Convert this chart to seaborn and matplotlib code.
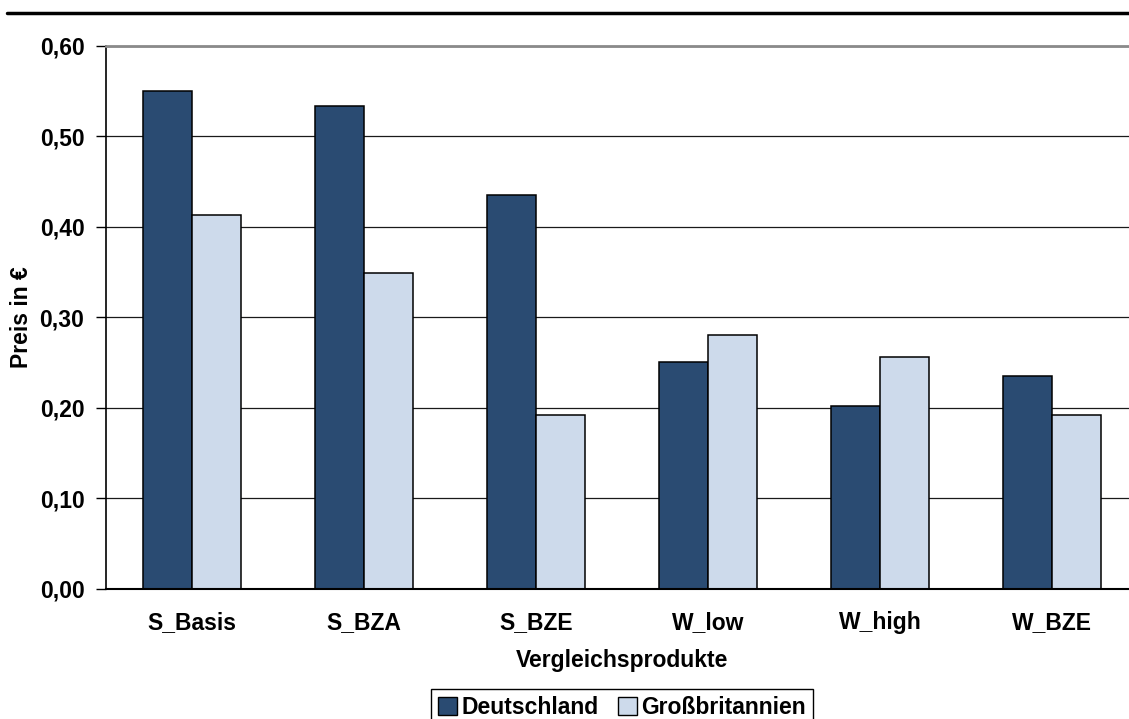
import pandas as pd
import matplotlib
matplotlib.use("Agg")
import matplotlib.pyplot as plt
from matplotlib.ticker import FuncFormatter
from matplotlib.lines import Line2D
from matplotlib.patches import Patch
import seaborn as sns

# Werte
produkte = ["S_Basis", "S_BZA", "S_BZE", "W_low", "W_high", "W_BZE"]
laender = ["Deutschland", "Großbritannien"]
preis_de = [0.550, 0.533, 0.435, 0.250, 0.202, 0.235]
preis_gb = [0.413, 0.349, 0.192, 0.280, 0.256, 0.192]
y_ticks = [0.0, 0.1, 0.2, 0.3, 0.4, 0.5, 0.6]
farben = ["#2A4B72", "#CDDAEB"]

df = pd.DataFrame({
    "produkt": produkte + produkte,
    "land": [laender[0]] * len(produkte) + [laender[1]] * len(produkte),
    "preis": preis_de + preis_gb,
})

sns.set_style("white")
plt.rcParams["font.family"] = ["Liberation Sans", "DejaVu Sans"]
plt.rcParams["font.weight"] = "bold"
plt.rcParams["text.color"] = "black"

W, H = 1129, 719
fs = 16.5
fig = plt.figure(figsize=(W / 100, H / 100), dpi=100)
ax = fig.add_axes([106 / W, 1 - 588.5 / H, 1032 / W, (588.5 - 45.7) / H])

sns.barplot(data=df, x="produkt", y="preis", hue="land",
            order=produkte, hue_order=laender, palette=farben,
            saturation=1, width=0.57, edgecolor="black", linewidth=1.1,
            legend=False, ax=ax)

ax.set_xlim(-0.5, len(produkte) - 0.5)
ax.set_ylim(0, 0.6)
ax.set_yticks(y_ticks)
ax.yaxis.set_major_formatter(FuncFormatter(lambda v, p: f"{v:.2f}".replace(".", ",")))
ax.yaxis.grid(True, color="#1a1a1a", linewidth=0.9)
ax.set_axisbelow(True)

ax.set_xticks([i - 0.5 for i in range(len(produkte) + 1)], minor=True)
ax.tick_params(axis="x", which="major", length=0, pad=16.5, labelsize=fs, labelcolor="black")
ax.tick_params(axis="x", which="minor", length=8, width=1, color="black", direction="out")
ax.tick_params(axis="y", which="major", length=7, width=1, color="black", direction="out",
               pad=8.5, labelsize=fs, labelcolor="black", left=True)
for lab in ax.get_xticklabels() + ax.get_yticklabels():
    lab.set_fontweight("bold")

ax.set_xlabel("")
ax.set_ylabel("")
ax.spines["left"].set_color("black")
ax.spines["left"].set_linewidth(1.2)
ax.spines["bottom"].set_color("black")
ax.spines["bottom"].set_linewidth(1.5)
ax.spines["top"].set_color("#8a8a8a")
ax.spines["top"].set_linewidth(2)
ax.spines["right"].set_visible(False)

fig.text(622 / W, 1 - 661 / H, "Vergleichsprodukte", ha="center", va="center",
         fontsize=fs, fontweight="bold", color="black")
fig.text(22 / W, 1 - 317 / H, "Preis in €", ha="center", va="center",
         rotation=90, fontsize=fs, fontweight="bold", color="black")

fig.add_artist(Line2D([7 / W, 1], [1 - 13 / H, 1 - 13 / H],
                      transform=fig.transFigure, color="black", linewidth=2.5))

handles = [Patch(facecolor=farben[i], edgecolor="black", linewidth=1) for i in range(2)]
leg = fig.legend(handles, laender, loc="upper center", bbox_to_anchor=(622 / W, 1 - 689 / H),
                 ncol=2, frameon=True, fancybox=False, edgecolor="black", framealpha=1,
                 fontsize=fs, handlelength=0.82, handleheight=0.82, handletextpad=0.2,
                 columnspacing=0.85, borderpad=0.3, borderaxespad=0)
leg.get_frame().set_linewidth(1)
for t in leg.get_texts():
    t.set_fontweight("bold")
    t.set_color("black")

fig.savefig("out.png", dpi=100)
